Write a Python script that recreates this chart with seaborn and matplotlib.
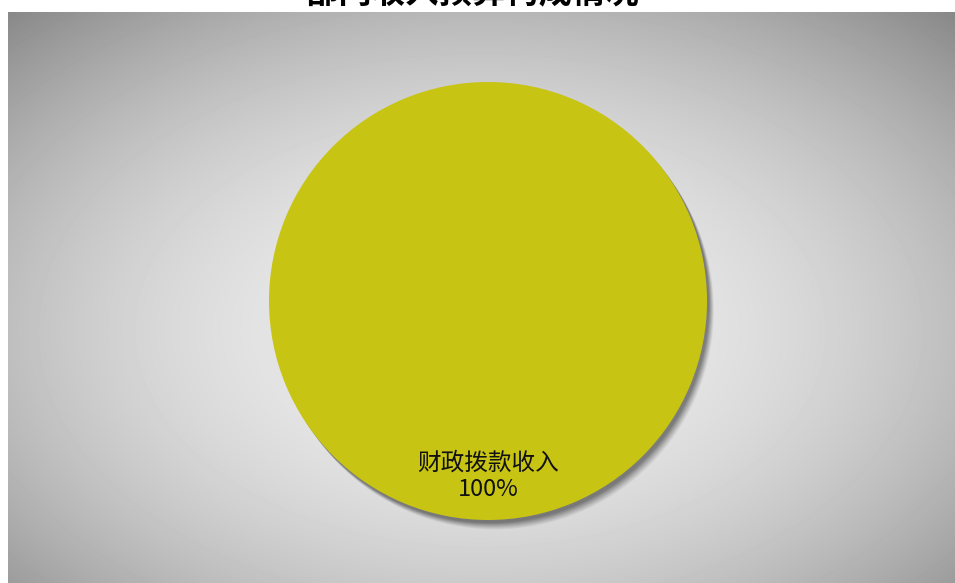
import numpy as np
import matplotlib
matplotlib.use("Agg")
import matplotlib.pyplot as plt
import matplotlib.patheffects as pe
import seaborn as sns

# data
categories = ["财政拨款收入"]
values = [100]
title_text = "部门收入预算构成情况"
pie_color = "#c8c414"

sns.set_theme(style="white")
plt.rcParams['font.family'] = ['Noto Sans CJK SC', 'DejaVu Sans']

W, H = 955, 583
fig = plt.figure(figsize=(W / 100, H / 100), dpi=100)
fig.patch.set_facecolor("white")

# background gradient panel
left, top = 8, 12
bg = fig.add_axes([left / W, 0, (W - left) / W, (H - top) / H])
bw, bh = W - left, H - top
yy, xx = np.mgrid[0:bh, 0:bw]
cx, cy = 480 - left, 330 - top
r2 = ((xx - cx) / 480.0) ** 2 + ((yy - cy) / 300.0) ** 2
val = np.clip(0.93 - 0.19 * r2, 0, 1)
bg.imshow(val, cmap="gray", vmin=0, vmax=1, aspect="auto", interpolation="bilinear")
bg.set_axis_off()

# pie axes
R = 219
cxp, cyp = 488, 301
half = 260
ax = fig.add_axes([(cxp - half) / W, (H - cyp - half) / H, 2 * half / W, 2 * half / H])

wedges, texts, autotexts = ax.pie(
    values,
    colors=[pie_color],
    startangle=90,
    autopct=lambda p: f"{categories[0]}\n{p:.0f}%",
    pctdistance=0.80,
    textprops=dict(fontsize=17, color="#111111"),
    wedgeprops=dict(linewidth=0),
)
ax.set_xlim(-half / R, half / R)
ax.set_ylim(-half / R, half / R)
ax.set_aspect("equal")
ax.set_axis_off()

# soft drop shadow (layered)
effects = []
for d, a in [(9, 0.05), (8, 0.06), (7, 0.07), (6, 0.08), (5, 0.09), (4, 0.1), (3, 0.1)]:
    effects.append(pe.SimplePatchShadow(offset=(d * 0.55, -d * 0.75), shadow_rgbFace="black", alpha=a))
effects.append(pe.Normal())
for w in wedges:
    w.set_path_effects(effects)

for t in autotexts:
    t.set_linespacing(1.2)

fig.text(472 / W, 1 - 3 / H, title_text, ha="center", va="baseline",
         fontsize=24, fontweight="bold", color="black")

fig.savefig("out.png", dpi=100)
